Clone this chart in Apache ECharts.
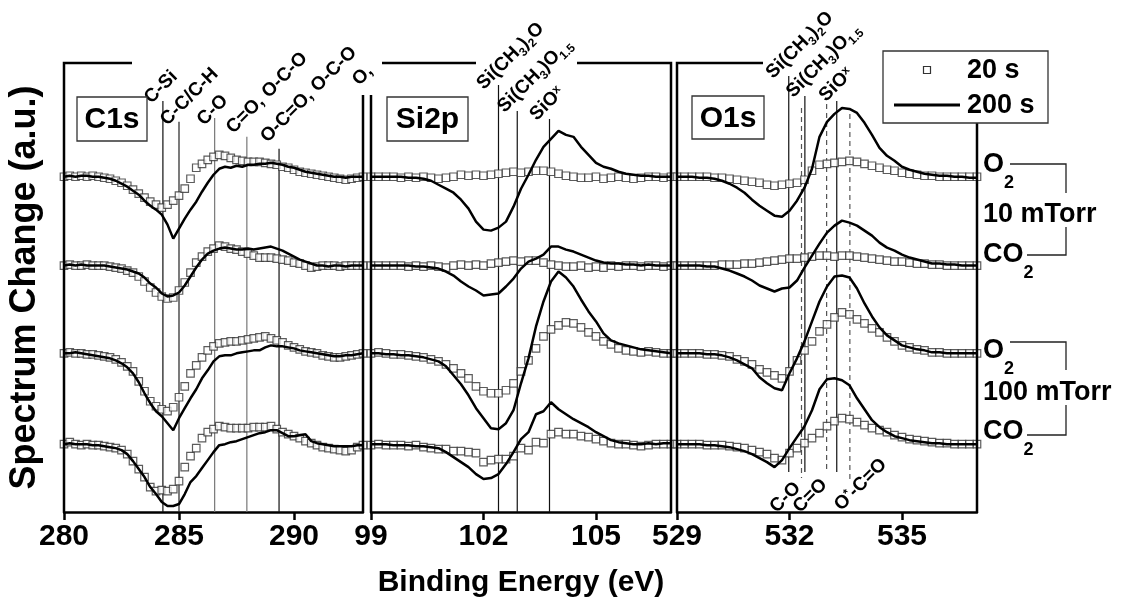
<!DOCTYPE html>
<html>
<head>
<meta charset="utf-8">
<title>Spectrum change C1s / Si2p / O1s</title>
<script src="https://cdn.jsdelivr.net/npm/echarts@6.0.0/dist/echarts.min.js"></script>
<style>
  html, body { margin: 0; padding: 0; background: #fff; }
  #chart { width: 1123px; height: 599px; }
</style>
</head>
<body>
<div id="chart"></div>
<script>
// binding energy (eV) of each sample point
var c1sEnergy = [280, 280.25, 280.5, 280.75, 281, 281.25, 281.5, 281.75, 282, 282.25, 282.5, 282.75,
  283, 283.25, 283.5, 283.75, 284, 284.25, 284.5, 284.75, 285, 285.25, 285.5, 285.75,
  286, 286.25, 286.5, 286.75, 287, 287.25, 287.5, 287.75, 288, 288.25, 288.5, 288.75,
  289, 289.25, 289.5, 289.75, 290, 290.25, 290.5, 290.75, 291, 291.25, 291.5, 291.75,
  292, 292.25, 292.5, 292.75, 293];
var si2pEnergy = [99, 99.2, 99.4, 99.6, 99.8, 100, 100.2, 100.4, 100.6, 100.8, 101, 101.2, 101.4, 101.6, 101.8,
  102, 102.2, 102.4, 102.6, 102.8, 103, 103.2, 103.4, 103.6, 103.8, 104, 104.2, 104.4, 104.6, 104.8,
  105, 105.2, 105.4, 105.6, 105.8, 106, 106.2, 106.4, 106.6, 106.8, 107];
var o1sEnergy = [529, 529.2, 529.4, 529.6, 529.8, 530, 530.2, 530.4, 530.6, 530.8, 531, 531.2, 531.4, 531.6, 531.8,
  532, 532.2, 532.4, 532.6, 532.8, 533, 533.2, 533.4, 533.6, 533.8, 534, 534.2, 534.4, 534.6, 534.8,
  535, 535.2, 535.4, 535.6, 535.8, 536, 536.2, 536.4, 536.6, 536.8, 537];

// tick labels
var c1sTicks = [280, 285, 290];
var si2pTicks = [99, 102, 105];
var o1sTicks = [529, 532, 535];

// stacking baseline of each row: O2 10 mTorr, CO2 10 mTorr, O2 100 mTorr, CO2 100 mTorr
var rowOffsets = [336, 247, 159, 68];

// spectrum change, one array per row (same order as rowOffsets)
var c1s20s = [
  [0,1,0,1, 0,1,0,-1, -2,-4,-6,-9, -13,-17,-21,-25, -28,-31,-28,-24, -19,-12,-2,9, 13,17,20,22, 21,19,17,16, 15,15,15,14, 13,12,10,9, 7,5,4,3, 2,1,0,-1, -2,-3,-2,-1, 0],
  [0,1,0,0, 1,0,0,0, -1,-2,-3,-5, -7,-11,-16,-22, -27,-31,-33,-32, -25,-17,-7,3, 9,14,17,20, 19,17,16,14, 12,10,8,8, 8,7,6,5, 3,2,0,-2, -1,0,0,0, -1,0,0,0, 0],
  [0,1,0,0, -1,-1,-2,-3, -4,-6,-9,-13, -18,-28,-38,-48, -53,-56,-58,-54, -44,-33,-20,-12, -4,3,7,10, 11,12,12,13, 14,15,16,17, 15,13,11,8, 6,4,2,1, 0,-2,-3,-4, -4,-3,-2,-1, 0],
  [0,2,0,-1, 0,-1,-1,-2, -3,-4,-6,-10, -17,-25,-33,-43, -47,-46,-47,-45, -37,-23,-12,-4, 6,12,15,18, 17,16,16,16, 16,17,17,17, 18,15,12,10, 8,6,3,1, -1,-3,-4,-5, -6,-7,-6,-3, -1]
];
var c1s200s = [
  [0,1,0,1, 1,0,0,-1, -2,-4,-7,-10, -14,-18,-24,-29, -33,-38,-48,-62, -52,-42,-33,-25, -15,-6,2,8, 10,9,11,10, 12,12,13,13, 14,13,12,10, 9,7,5,4, 3,2,1,0, 0,-1,0,0, 0],
  [0,1,0,1, 0,0,0,0, -1,-2,-3,-4, -6,-8,-12,-18, -22,-28,-31,-30, -27,-20,-11,-2, 6,12,15,17, 18,17,16,16, 17,16,17,18, 19,17,15,12, 9,6,4,2, 0,0,-1,0, 0,-1,0,0, 0],
  [0,0,1,0, -1,-2,-3,-4, -5,-7,-10,-14, -20,-29,-40,-50, -58,-63,-70,-77, -65,-55,-45,-36, -25,-17,-8,-3, -2,-2,0,1, 2,3,3,6, 8,7,7,6, 5,3,2,1, 0,-1,-2,-3, -3,-2,-2,-1, 0],
  [0,1,0,0, 0,-1,-1,-2, -3,-4,-6,-10, -17,-25,-33,-43, -50,-58,-62,-62, -60,-50,-38,-32, -24,-16,-8,-1, 0,2,3,5, 7,9,11,12, 14,14,11,8, 8,9,10,3, 1,0,-1,-2, -2,-2,-2,-1, -1]
];
var si2p20s = [
  [0,0,0,0,-1, 0,-1,0,-1,-2, -1,0,2,1,2, 1,2,3,4,5, 4,5,6,6,5, 3,1,0,-1,-1, 0,-2,-1,0,-1, -2,-1,0,0,-1, 0],
  [0,0,0,0,0, -1,0,-1,0,-1, -2,0,1,0,1, 0,2,3,4,5, 4,5,5,3,1, 0,-1,-1,0,-2, -1,-2,0,-1,0, 0,-1,0,0,-1, 0],
  [0,1,0,-1,-1, -2,-3,-4,-6,-8, -11,-15,-20,-25,-33, -38,-40,-40,-37,-30, -18,-7,5,17,24, 28,31,30,26,21, 17,12,9,5,3, 2,1,2,1,0, 0],
  [-1,0,-1,-1,-1, -2,-1,-3,-4,-5, -5,-7,-7,-8,-9, -18,-16,-15,-15,-12, -4,-6,2,1,10, 12,10,10,8,7, 5,3,1,0,0, -1,-2,-1,0,0, 0]
];
var si2p200s = [
  [0,0,0,0,0, -1,-1,-2,-4,-8, -12,-16,-23,-32,-45, -53,-54,-51,-45,-30, -12,2,17,30,38, 46,42,40,30,22, 14,10,8,5,3, 2,1,1,0,0, 0],
  [0,0,0,0,0, 0,-1,-1,-2,-3, -6,-10,-16,-21,-25, -30,-29,-28,-21,-13, -3,4,7,11,19, 19,16,14,11,8, 5,3,2,2,1, 1,0,1,0,0, 0],
  [0,0,-1,-1,-2, -2,-3,-4,-6,-8, -13,-22,-31,-42,-55, -65,-75,-76,-70,-57, -30,-5,27,52,72, 82,76,67,54,42, 32,20,13,10,8, 6,4,3,2,1, 0],
  [0,0,0,-1,-1, -1,-2,-2,-3,-4, -8,-13,-18,-23,-30, -35,-34,-30,-20,-8, 5,12,30,33,42, 35,30,25,21,17, 12,8,4,2,1, 0,0,1,0,1, 1]
];
var o1s20s = [
  [0,0,0,0,0, -1,-1,-2,-3,-4, -5,-6,-8,-9,-8, -7,-6,-3,6,12, 13,14,15,16,15, 13,11,9,7,6, 4,3,2,1,1, 0,0,0,0,0, 0],
  [0,0,0,0,0, 0,1,1,1,2, 2,3,4,5,6, 7,7,8,9,10, 10,9,10,10,9, 8,7,6,5,4, 4,3,2,2,1, 1,0,0,0,0, 0],
  [0,0,0,0,-1, -1,-2,-3,-6,-8, -11,-16,-19,-22,-25, -18,-7,3,12,22, 29,36,41,39,34, 30,25,21,16,12, 8,6,4,3,1, 1,0,0,0,0, 0],
  [0,0,0,0,-1, -1,-1,-2,-3,-4, -6,-8,-10,-14,-16, -9,-4,1,6,11, 18,23,26,25,22, 19,16,14,12,9, 7,5,4,3,2, 1,1,0,0,0, 0]
];
var o1s200s = [
  [0,0,0,-1,-1, -2,-4,-7,-11,-16, -23,-29,-34,-39,-40, -34,-24,-11,8,40, 55,63,69,68,64, 54,42,29,21,16, 10,7,5,3,2, 1,1,0,0,-1, -1],
  [0,0,0,0,-1, -1,-3,-5,-8,-11, -15,-20,-23,-26,-23, -22,-15,-2,10,22, 33,40,45,43,40, 35,30,23,18,15, 11,8,6,4,2, 2,1,1,0,0, 0],
  [0,0,0,0,-1, -1,-2,-4,-7,-11, -15,-24,-30,-35,-37, -20,-5,12,32,52, 67,77,78,76,65, 50,37,26,18,13, 8,6,4,3,1, 1,0,0,0,0, 0],
  [0,0,0,0,-1, -1,-2,-3,-5,-7, -10,-14,-18,-23,-16, -4,7,18,34,55, 65,66,64,59,46, 35,24,17,12,8, 6,4,3,2,1, 1,0,0,0,0, 0]
];

// peak reference lines: energy, extent in a.u., label
var peakLines = [
  { panel: 0, ev: 284.3, top: 412, bottom: 0, color: '#111', text: '{a|C-Si}', dx: -15, dy: 0 },
  { panel: 0, ev: 285.0, top: 391, bottom: 0, color: '#222', text: '{a|C-C/C-H}', dx: -15, dy: 1 },
  { panel: 0, ev: 286.55, top: 395, bottom: 0, color: '#777', text: '{a|C-O}', dx: -14, dy: 5 },
  { panel: 0, ev: 287.95, top: 376, bottom: 0, color: '#777', text: '{a|C=O, O-C-O}', dx: -17, dy: -6 },
  { panel: 0, ev: 289.35, top: 364, bottom: 0, color: '#111', text: '{a|O-C=O, O-C-O}', dx: -15, dy: -9 },
  { panel: 1, ev: 102.4, top: 428, bottom: 0, color: '#111', text: '{a|Si(CH}{s|3}{a|)}{s|2}{a|O}', dx: -18, dy: 2 },
  { panel: 1, ev: 102.9, top: 402, bottom: 0, color: '#111', text: '{a|Si(CH}{s|3}{a|)O}{s|1.5}', dx: -16, dy: -1 },
  { panel: 1, ev: 103.76, top: 394, bottom: 0, color: '#111', text: '{a|SiO}{p|x}', dx: -16, dy: -1 },
  { panel: 2, ev: 531.98, top: 437, bottom: 40, color: '#111', text: '{a|Si(CH}{s|3}{a|)}{s|2}{a|O}', dx: -19, dy: 0 },
  { panel: 2, ev: 532.41, top: 417, bottom: 40, color: '#111', text: '{a|Si(CH}{s|3}{a|)O}{s|1.5}', dx: -15, dy: -1 },
  { panel: 2, ev: 533.26, top: 412, bottom: 40, color: '#111', text: '{a|SiO}{p|x}', dx: -14, dy: -2 },
  { panel: 2, ev: 532.32, top: 405, bottom: 34, color: '#555', dashed: true, text: '{a|C-O}', atBottom: true, dx: -28, dy: 32 },
  { panel: 2, ev: 532.99, top: 409, bottom: 40, color: '#555', dashed: true, text: '{a|C=O}', atBottom: true, dx: -30, dy: 38 },
  { panel: 2, ev: 533.61, top: 399, bottom: 32, color: '#555', dashed: true, text: '{a|O}{p|*}{a|-C=O}', atBottom: true, dx: -12, dy: 28 }
];

var FONT = '"Liberation Sans", Arial, Helvetica, sans-serif';

var panels = [
  { name: 'C1s', energy: c1sEnergy, s20: c1s20s, s200: c1s200s, min: 280, max: 293, interval: 5, ticks: c1sTicks, left: 64, width: 299 },
  { name: 'Si2p', energy: si2pEnergy, s20: si2p20s, s200: si2p200s, min: 99, max: 107, interval: 3, ticks: si2pTicks, left: 371, width: 300 },
  { name: 'O1s', energy: o1sEnergy, s20: o1s20s, s200: o1s200s, min: 529, max: 537, interval: 3, ticks: o1sTicks, left: 677, width: 300 }
];
var GRID_TOP = 63, GRID_H = 449;

var grids = [], xAxes = [], yAxes = [], series = [];

panels.forEach(function (p, pi) {
  grids.push({ left: p.left, top: GRID_TOP, width: p.width, height: GRID_H, outerBoundsMode: 'none' });
  xAxes.push({
    gridIndex: pi, type: 'value', min: p.min, max: p.max, interval: p.interval,
    axisLine: { lineStyle: { color: '#000', width: 2.5 } },
    axisTick: { inside: false, length: 8, lineStyle: { color: '#000', width: 2.5 }, customValues: p.ticks },
    axisLabel: { customValues: p.ticks, color: '#000', fontSize: 30, fontWeight: 'bold', fontFamily: FONT, margin: 10 },
    splitLine: { show: false },
    name: pi === 1 ? 'Binding Energy (eV)' : '',
    nameLocation: 'middle', nameGap: 56,
    nameTextStyle: { color: '#000', fontSize: 30, fontWeight: 'bold', fontFamily: FONT }
  });
  yAxes.push({
    gridIndex: pi, type: 'value', min: 0, max: 450,
    show: pi === 0,
    axisLine: { show: false }, axisTick: { show: false }, axisLabel: { show: false }, splitLine: { show: false },
    name: pi === 0 ? 'Spectrum Change (a.u.)' : '',
    nameLocation: 'middle', nameGap: 21, nameRotate: 90,
    nameTextStyle: { color: '#000', fontSize: 36, fontWeight: 'bold', fontFamily: FONT }
  });

  for (var r = 0; r < 4; r++) {
    var sq = p.energy.map(function (e, i) { return [e, rowOffsets[r] + p.s20[r][i]]; });
    var ln = p.energy.map(function (e, i) { return [e, rowOffsets[r] + p.s200[r][i]]; });
    series.push({
      name: '20 s', type: 'scatter', xAxisIndex: pi, yAxisIndex: pi, data: sq,
      symbol: 'rect', symbolSize: 7.5, z: 3, silent: true,
      itemStyle: { color: '#fff', borderColor: '#333', borderWidth: 1.2 }
    });
    series.push({
      name: '200 s', type: 'line', xAxisIndex: pi, yAxisIndex: pi, data: ln,
      symbol: 'none', z: 4, silent: true,
      lineStyle: { color: '#000', width: 2.5 }
    });
  }
});

// thin reference lines at the peak positions
peakLines.forEach(function (pl) {
  series.push({
    type: 'line', xAxisIndex: pl.panel, yAxisIndex: pl.panel, symbol: 'none', z: 2, silent: true,
    data: [[pl.ev, pl.top], [pl.ev, pl.bottom]],
    lineStyle: { color: pl.color, width: 1.2, type: pl.dashed ? [5, 4] : 'solid' }
  });
});

var chart = echarts.init(document.getElementById('chart'));
chart.setOption({
  animation: false,
  backgroundColor: '#fff',
  grid: grids, xAxis: xAxes, yAxis: yAxes, series: series
});

// ---- annotations ----
function toPx(pi, x, y) {
  return chart.convertToPixel({ xAxisIndex: pi, yAxisIndex: pi }, [x, y]);
}
// a: normal text, s: subscript, p: superscript
var labelRich = {
  a: { fontSize: 19, fontWeight: 'bold', fontFamily: FONT, color: '#000', lineHeight: 22, verticalAlign: 'top' },
  s: { fontSize: 12, fontWeight: 'bold', fontFamily: FONT, color: '#000', lineHeight: 22, verticalAlign: 'bottom' },
  p: { fontSize: 12, fontWeight: 'bold', fontFamily: FONT, color: '#000', lineHeight: 22, verticalAlign: 'top' }
};
function tiltedLabel(x, y, text) {
  return {
    type: 'text', x: x, y: y, rotation: Math.PI / 4, z: 50, silent: true,
    style: { text: text, rich: labelRich, x: 0, y: -10, align: 'left', verticalAlign: 'top', fill: '#000' }
  };
}
function seg(points) {
  return { type: 'polyline', z: 60, silent: true, shape: { points: points }, style: { stroke: '#000', lineWidth: 2.5, fill: null } };
}
function thin(points) {
  return { type: 'polyline', z: 60, silent: true, shape: { points: points }, style: { stroke: '#222', lineWidth: 1.3, fill: null } };
}
function plainText(x, y, text, size, align) {
  return {
    type: 'text', x: x, y: y, z: 70, silent: true,
    style: { text: text, fill: '#000', font: 'bold ' + size + 'px ' + FONT, align: align || 'left', verticalAlign: 'middle' }
  };
}
function boxLabel(x, y, w, h, text) {
  return [
    { type: 'rect', z: 65, silent: true, shape: { x: x, y: y, width: w, height: h }, style: { fill: '#fff', stroke: '#333', lineWidth: 1.3 } },
    plainText(x + w / 2, y + h / 2 + 1, text, 30, 'center')
  ];
}
var gasRich = {
  m: { fontSize: 27, fontWeight: 'bold', fontFamily: FONT, color: '#000', lineHeight: 41, verticalAlign: 'top' },
  s: { fontSize: 18, fontWeight: 'bold', fontFamily: FONT, color: '#000', lineHeight: 41, verticalAlign: 'bottom' }
};
function gasLabel(x, yCenter, text) {
  return { type: 'text', x: x, y: yCenter - 14, z: 70, silent: true, style: { text: text, rich: gasRich, align: 'left', verticalAlign: 'top' } };
}

var g = [];
peakLines.forEach(function (pl) {
  var pt = toPx(pl.panel, pl.ev, pl.atBottom ? pl.bottom : pl.top);
  g.push(tiltedLabel(pt[0] + pl.dx, pt[1] + pl.dy, pl.text));
});
var stray = toPx(0, 292.69, 430);
g.push(tiltedLabel(stray[0], stray[1], '{a|O,}'));

// panel frames (top / side borders are broken where labels sit)
var bottom = GRID_TOP + GRID_H;
g.push(seg([[132, GRID_TOP], [64, GRID_TOP], [64, bottom]]));
g.push(seg([[363, 95], [363, bottom]]));
g.push(seg([[371, 95], [371, bottom]]));
g.push(seg([[382, GRID_TOP], [476, GRID_TOP]]));
g.push(seg([[577, GRID_TOP], [671, GRID_TOP], [671, bottom]]));
g.push(seg([[763, GRID_TOP], [677, GRID_TOP], [677, bottom]]));
g.push(seg([[977, 123], [977, bottom]]));

g = g.concat(boxLabel(77, 97, 70, 44, 'C1s'));
g = g.concat(boxLabel(387, 97, 81, 44, 'Si2p'));
g = g.concat(boxLabel(692, 96, 72, 43, 'O1s'));

// legend
g.push({ type: 'rect', z: 65, silent: true, shape: { x: 883, y: 51, width: 165, height: 72 }, style: { fill: '#fff', stroke: '#333', lineWidth: 1.3 } });
g.push({ type: 'rect', z: 70, silent: true, shape: { x: 923.5, y: 66.5, width: 7, height: 7 }, style: { fill: '#fff', stroke: '#333', lineWidth: 1.2 } });
g.push({ type: 'line', z: 70, silent: true, shape: { x1: 894, y1: 105, x2: 960, y2: 105 }, style: { stroke: '#000', lineWidth: 3 } });
g.push(plainText(967, 71, '20 s', 27));
g.push(plainText(967, 106, '200 s', 27));

// gas / pressure annotations
g.push(gasLabel(983, 165, '{m|O}{s|2}'));
g.push(plainText(983, 215, '10 mTorr', 27));
g.push(gasLabel(983, 255, '{m|CO}{s|2}'));
g.push(thin([[1010, 164], [1066, 164], [1066, 193]]));
g.push(thin([[1066, 227], [1066, 255], [1027, 255]]));
g.push(gasLabel(983, 351, '{m|O}{s|2}'));
g.push(plainText(983, 393, '100 mTorr', 27));
g.push(gasLabel(983, 432, '{m|CO}{s|2}'));
g.push(thin([[1010, 342], [1066, 342], [1066, 370]]));
g.push(thin([[1066, 405], [1066, 435], [1027, 435]]));

chart.setOption({ graphic: { elements: g } });
</script>
</body>
</html>
